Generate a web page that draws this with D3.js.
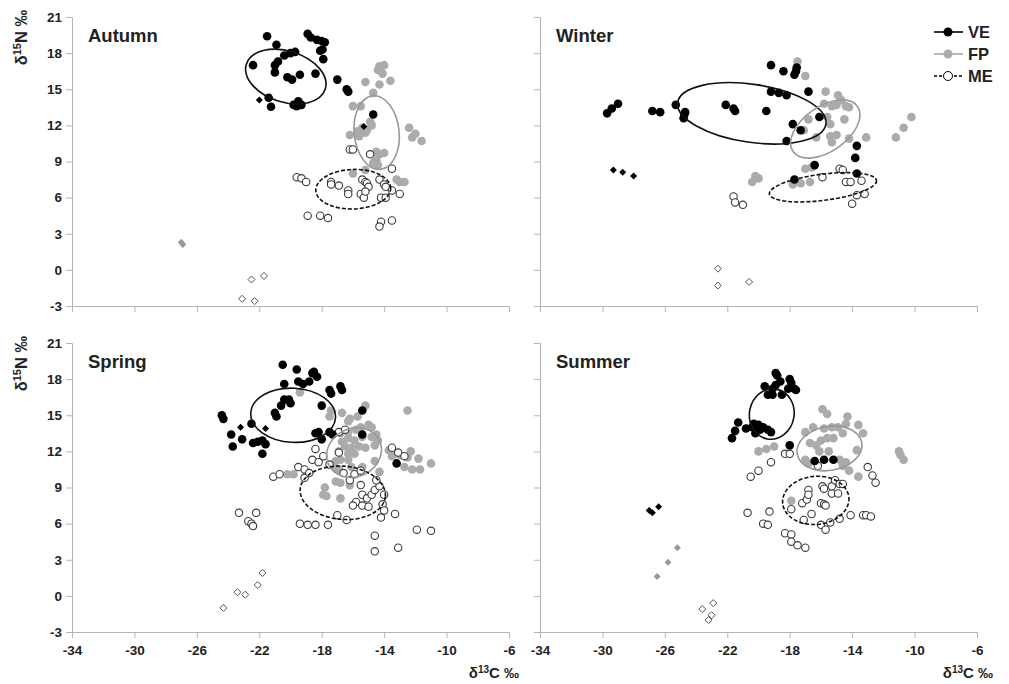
<!DOCTYPE html>
<html>
<head>
<meta charset="utf-8">
<script src="https://cdn.jsdelivr.net/npm/d3@7"></script>
<style>
  body { margin: 0; background: #fff; }
  svg text { font-family: Arial, "Liberation Sans", sans-serif; font-weight: bold; fill: #222; }
</style>
</head>
<body>
<div id="container"></div>
<script>
/* DATA (δ13C, δ15N in ‰) */
const seasons = ["Autumn", "Winter", "Spring", "Summer"];
const xTicks = [-34, -30, -26, -22, -18, -14, -10, -6];
const yTicks = [-3, 0, 3, 6, 9, 12, 15, 18, 21];
const groups = ["VE", "FP", "ME"];

// Autumn
const autumnVE = [[-21.5,19.4],[-20.9,18.7],[-22.4,17.0],[-21.0,17.0],[-20.8,17.3],[-20.4,17.8],[-20.0,18.0],[-19.7,18.1],[-21.0,16.4],[-20.2,16.0],[-19.9,15.8],[-19.4,16.2],[-18.4,16.3],[-18.9,19.6],[-18.7,19.3],[-18.3,19.1],[-18.0,19.0],[-17.8,18.9],[-18.1,18.2],[-17.95,18.3],[-17.9,17.5],[-17.0,15.8],[-16.4,15.0],[-16.3,14.8],[-14.7,12.9],[-21.4,14.3],[-21.25,13.55],[-19.8,13.7],[-19.5,14.0],[-19.3,13.7],[-19.6,13.6]];
const autumnFP = [[-14.4,16.6],[-14.3,16.9],[-14.0,17.0],[-14.1,16.3],[-15.2,15.6],[-14.3,15.4],[-13.6,15.7],[-14.7,14.7],[-16.0,13.6],[-15.5,13.6],[-16.2,11.2],[-15.7,11.5],[-15.4,11.8],[-15.2,11.4],[-15.1,11.6],[-14.9,12.3],[-14.8,12.0],[-15.6,11.1],[-14.5,9.8],[-14.3,9.6],[-14.0,9.7],[-14.5,9.1],[-14.7,8.9],[-14.4,8.7],[-12.4,11.8],[-12.0,11.3],[-12.2,11.0],[-11.6,10.7],[-16.0,8.0],[-15.2,8.3],[-13.2,7.5],[-13.0,7.3],[-12.7,7.3]];
const autumnME = [[-19.6,7.7],[-19.3,7.6],[-19.0,7.3],[-17.4,7.3],[-17.4,7.1],[-16.9,7.0],[-16.3,6.6],[-16.3,6.3],[-15.4,7.5],[-15.2,7.3],[-15.1,7.2],[-15.0,6.9],[-15.5,6.3],[-15.3,6.0],[-15.2,6.5],[-14.3,7.5],[-14.0,7.1],[-13.9,6.9],[-14.2,6.0],[-13.9,6.0],[-13.5,6.6],[-13.0,6.3],[-13.5,8.4],[-16.2,10.0],[-16.0,10.0],[-14.9,9.6],[-18.9,4.5],[-18.1,4.5],[-17.6,4.3],[-14.2,4.0],[-14.3,3.6],[-13.5,4.1]];
const autumnVEd = [[-22.0,14.1],[-15.3,11.9]];
const autumnFPd = [[-27.0,2.3],[-26.9,2.1]];
const autumnMEd = [[-22.5,-0.8],[-21.7,-0.5],[-23.1,-2.4],[-22.3,-2.6]];
const autumnEll = [[-20.3,16.05,2.65,2.13,17.5],[-14.48,11.4,1.44,3.07,-6],[-15.98,6.7,2.4,1.64,-2]];

// Winter
const winterVE = [[-29.7,13.0],[-29.4,13.4],[-29.0,13.8],[-26.8,13.2],[-26.3,13.1],[-25.3,13.7],[-24.7,13.1],[-24.8,12.6],[-24.75,12.9],[-22.1,13.7],[-21.6,13.4],[-21.5,13.2],[-19.5,13.2],[-19.2,17.0],[-18.4,16.5],[-17.7,16.2],[-17.6,16.5],[-17.55,16.8],[-19.2,14.8],[-18.7,14.7],[-18.2,14.5],[-16.8,14.8],[-17.8,12.1],[-16.1,12.7],[-17.3,11.6],[-18.2,10.7],[-13.7,10.3],[-13.8,9.3],[-13.7,8.0],[-17.7,7.5],[-16.4,8.7]];
const winterFP = [[-17.5,17.3],[-17.0,16.1],[-15.7,14.8],[-14.9,14.5],[-14.7,14.1],[-14.4,13.6],[-14.2,13.5],[-15.8,13.8],[-15.3,13.6],[-15.0,13.7],[-15.6,12.7],[-14.5,12.5],[-15.4,12.1],[-16.8,12.5],[-17.1,11.6],[-16.3,11.0],[-15.4,11.1],[-15.0,11.2],[-15.3,10.6],[-14.2,10.9],[-13.1,11.0],[-11.2,11.0],[-10.7,11.8],[-10.2,12.7],[-17.0,8.4],[-16.6,8.5],[-16.5,8.6],[-20.4,7.3],[-20.2,7.8],[-20.0,7.6],[-17.8,7.1],[-17.3,7.2],[-16.7,7.3]];
const winterME = [[-21.6,6.1],[-21.5,5.6],[-21.0,5.4],[-15.9,7.7],[-14.8,8.4],[-14.6,8.3],[-14.4,7.3],[-14.1,7.3],[-13.4,7.4],[-13.7,6.2],[-13.2,6.3],[-14.0,5.5]];
const winterVEd = [[-29.3,8.3],[-28.7,8.1],[-28.0,7.8]];
const winterFPd = [];
const winterMEd = [[-22.6,0.1],[-22.6,-1.3],[-20.6,-1.0]];
const winterEll = [[-20.43,13.0,4.8,2.41,8.3],[-15.72,11.7,2.52,1.86,-35],[-15.87,6.86,3.46,1.09,-7.2]];

// Spring
const springVE = [[-24.4,15.0],[-24.3,14.7],[-23.8,13.4],[-23.7,12.4],[-23.1,13.0],[-22.5,14.3],[-22.4,12.7],[-22.1,12.8],[-21.8,12.9],[-21.6,12.6],[-21.8,11.8],[-21.0,15.2],[-20.9,14.9],[-20.6,15.8],[-20.4,16.3],[-20.1,16.3],[-20.0,16.0],[-20.5,19.2],[-20.4,17.6],[-19.6,18.8],[-19.5,17.8],[-19.2,17.6],[-18.8,17.8],[-18.6,18.5],[-18.5,18.6],[-18.3,18.2],[-18.0,15.8],[-18.0,13.0],[-18.4,13.5],[-18.2,13.6],[-17.5,17.1],[-17.4,16.8],[-16.8,17.4],[-16.7,17.1],[-17.5,13.6],[-17.3,13.4],[-15.4,15.4],[-13.2,11.0],[-15.4,13.4]];
const springFP = [[-19.4,16.9],[-17.4,15.4],[-17.5,14.9],[-16.7,15.2],[-16.2,14.7],[-16.3,14.5],[-15.7,14.9],[-15.2,15.8],[-16.8,13.5],[-16.3,13.6],[-15.8,13.8],[-15.5,14.0],[-15.0,14.2],[-14.8,14.0],[-16.7,12.8],[-16.3,13.1],[-15.9,12.9],[-15.4,13.2],[-14.8,13.2],[-14.5,13.4],[-14.4,12.9],[-16.5,12.4],[-16.1,12.3],[-15.6,12.4],[-15.2,12.3],[-14.6,12.5],[-16.3,11.8],[-15.9,11.8],[-16.9,12.0],[-16.8,11.3],[-17.1,11.2],[-16.3,11.3],[-17.1,10.6],[-16.9,10.5],[-16.1,10.7],[-15.4,10.7],[-14.6,11.2],[-17.1,9.5],[-16.8,9.4],[-16.2,9.2],[-17.8,9.0],[-17.9,8.4],[-17.7,8.3],[-16.8,8.1],[-20.2,10.1],[-19.8,10.1],[-13.7,12.1],[-13.5,11.6],[-13.0,11.7],[-12.3,12.0],[-12.5,11.5],[-11.8,11.4],[-12.7,10.7],[-12.2,10.5],[-11.7,10.5],[-11.0,11.0],[-12.5,15.4],[-14.3,10.3]];
const springME = [[-23.3,6.9],[-22.2,6.9],[-22.7,6.2],[-22.5,6.0],[-22.4,5.8],[-21.1,9.9],[-20.7,10.1],[-19.5,10.7],[-19.1,10.5],[-19.1,9.8],[-18.8,10.2],[-18.4,12.2],[-18.6,11.3],[-18.2,11.1],[-17.9,11.6],[-17.5,10.9],[-16.9,11.9],[-16.9,13.6],[-16.5,13.8],[-16.6,10.2],[-16.2,9.6],[-15.9,10.1],[-15.5,10.4],[-15.5,9.2],[-15.8,7.8],[-16.0,7.5],[-15.4,7.5],[-15.0,7.4],[-15.4,8.4],[-15.1,8.1],[-14.8,8.4],[-14.6,8.8],[-14.3,9.1],[-14.5,9.6],[-14.0,8.4],[-14.1,7.6],[-14.0,7.1],[-17.0,6.7],[-16.4,6.3],[-19.4,6.0],[-18.9,5.9],[-18.4,5.9],[-17.6,5.9],[-14.2,6.5],[-13.3,6.8],[-13.5,12.3],[-13.1,11.9],[-12.7,11.6],[-14.6,5.0],[-14.6,3.7],[-13.1,4.0],[-11.9,5.5],[-11.0,5.4]];
const springVEd = [[-23.2,14.0],[-21.6,13.9]];
const springFPd = [];
const springMEd = [[-24.3,-1.0],[-23.4,0.3],[-22.9,0.1],[-22.1,0.9],[-21.8,1.9]];
const springEll = [[-19.83,15.0,2.72,2.25,3],[-15.93,11.9,1.8,2.0,-25],[-16.65,8.56,2.74,2.21,5]];

// Summer
const summerVE = [[-18.9,18.5],[-18.8,18.3],[-18.6,17.8],[-18.9,17.5],[-18.0,18.0],[-17.9,17.7],[-18.1,17.2],[-17.7,17.2],[-17.6,17.1],[-19.6,17.4],[-19.1,17.2],[-19.4,16.7],[-19.1,16.7],[-18.5,16.7],[-21.3,14.4],[-21.5,13.7],[-21.7,13.1],[-20.8,13.9],[-20.4,14.0],[-20.3,14.3],[-20.0,14.2],[-19.7,14.0],[-19.4,13.8],[-19.2,13.6],[-20.2,13.5],[-19.9,13.8],[-18.0,12.5],[-16.4,11.2],[-15.8,11.3],[-15.2,11.3]];
const summerFP = [[-15.9,15.5],[-15.6,15.1],[-17.0,13.6],[-16.5,14.0],[-15.8,13.9],[-15.3,14.0],[-14.9,14.0],[-14.3,14.9],[-14.4,14.3],[-13.6,14.2],[-13.3,13.5],[-16.7,12.7],[-16.3,12.5],[-16.0,12.9],[-15.6,13.1],[-15.2,13.1],[-14.6,13.5],[-16.1,12.0],[-15.5,12.0],[-13.7,12.1],[-20.0,12.0],[-19.5,12.2],[-19.0,12.4],[-17.0,11.3],[-16.8,11.0],[-14.8,11.3],[-14.4,11.1],[-14.6,10.8],[-14.2,10.4],[-13.6,9.9],[-11.0,12.0],[-10.9,11.7],[-10.7,11.3],[-17.9,7.9]];
const summerME = [[-18.3,11.8],[-18.0,11.8],[-19.2,11.1],[-20.5,9.9],[-20.0,10.4],[-16.2,10.8],[-13.0,10.7],[-12.7,10.0],[-12.5,9.4],[-20.7,6.9],[-19.3,7.0],[-19.7,6.0],[-19.4,5.9],[-18.3,5.2],[-17.9,5.1],[-17.9,4.5],[-17.5,4.2],[-17.0,4.0],[-17.2,7.7],[-16.9,8.0],[-16.8,8.8],[-16.8,8.4],[-17.9,7.2],[-16.6,6.8],[-17.1,6.3],[-15.9,9.1],[-15.8,8.9],[-15.3,8.5],[-15.3,9.1],[-15.1,9.6],[-14.8,9.3],[-14.6,9.3],[-14.9,8.5],[-16.0,7.7],[-15.8,7.6],[-15.7,7.5],[-16.0,5.9],[-15.7,5.5],[-15.4,6.1],[-14.8,6.4],[-14.1,6.7],[-13.3,6.7],[-13.1,6.7],[-12.8,6.6]];
const summerVEd = [[-27.0,7.1],[-26.8,6.9],[-26.4,7.4]];
const summerFPd = [[-26.5,1.6],[-25.8,2.8],[-25.2,4.0]];
const summerMEd = [[-23.6,-1.1],[-22.9,-0.6],[-23.0,-1.6],[-23.2,-2.0]];
const summerEll = [[-19.15,15.1,1.43,2.1,10],[-15.45,12.25,2.1,1.83,-10],[-16.33,7.93,2.13,2.0,-5]];

/* LAYOUT */
const width = 1009, height = 684;
const colX = [72, 540], rowY = [17, 343];
const pw = 437, ph = 289;

const panels = [
  {name: "Autumn", col: 0, row: 0, ve: autumnVE, fp: autumnFP, me: autumnME, ved: autumnVEd, fpd: autumnFPd, med: autumnMEd, ell: autumnEll},
  {name: "Winter", col: 1, row: 0, ve: winterVE, fp: winterFP, me: winterME, ved: winterVEd, fpd: winterFPd, med: winterMEd, ell: winterEll},
  {name: "Spring", col: 0, row: 1, ve: springVE, fp: springFP, me: springME, ved: springVEd, fpd: springFPd, med: springMEd, ell: springEll},
  {name: "Summer", col: 1, row: 1, ve: summerVE, fp: summerFP, me: summerME, ved: summerVEd, fpd: summerFPd, med: summerMEd, ell: summerEll}
];

const axisColor = "#b5b5b5";
const grayFill = "#ababab";
const diamond = "M0,-3.5L3.5,0L0,3.5L-3.5,0Z";

const svg = d3.select("#container").append("svg")
  .attr("width", width).attr("height", height);

panels.forEach(p => {
  const x0 = colX[p.col], y0 = rowY[p.row];
  const x = d3.scaleLinear().domain([-34, -6]).range([x0, x0 + pw]);
  const y = d3.scaleLinear().domain([-3, 21]).range([y0 + ph, y0]);
  const g = svg.append("g");

  // axes
  const xAxis = d3.axisBottom(x).tickValues(xTicks).tickSize(6).tickPadding(7);
  const yAxis = d3.axisLeft(y).tickValues(yTicks).tickSize(6).tickPadding(4);

  const gx = g.append("g").attr("transform", `translate(0,${y0 + ph})`).call(xAxis);
  const gy = g.append("g").attr("transform", `translate(${x0},0)`).call(yAxis);
  [gx, gy].forEach(a => {
    a.select(".domain").attr("stroke", axisColor);
    a.selectAll(".tick line").attr("stroke", axisColor);
    a.selectAll(".tick text").attr("font-size", 13.5).attr("fill", "#222")
      .text(d => d < 0 ? "-" + Math.abs(d) : d);
  });
  if (p.row === 0) gx.selectAll(".tick text").remove();
  if (p.col === 1) gy.selectAll(".tick text").remove();

  // title
  g.append("text").attr("x", x0 + 16).attr("y", y0 + 25)
    .attr("font-size", 18.5).text(p.name);

  // points
  g.selectAll("circle.fp").data(p.fp).join("circle").attr("class", "fp")
    .attr("cx", d => x(d[0])).attr("cy", d => y(d[1])).attr("r", 4.3)
    .attr("fill", grayFill);
  g.selectAll("circle.me").data(p.me).join("circle").attr("class", "me")
    .attr("cx", d => x(d[0])).attr("cy", d => y(d[1])).attr("r", 3.7)
    .attr("fill", "#fff").attr("stroke", "#3a3a3a").attr("stroke-width", 1.1);
  g.selectAll("circle.ve").data(p.ve).join("circle").attr("class", "ve")
    .attr("cx", d => x(d[0])).attr("cy", d => y(d[1])).attr("r", 4.3)
    .attr("fill", "#000");

  // diamonds
  g.selectAll("path.ved").data(p.ved).join("path").attr("class", "ved")
    .attr("d", diamond).attr("transform", d => `translate(${x(d[0])},${y(d[1])})`)
    .attr("fill", "#000");
  g.selectAll("path.fpd").data(p.fpd).join("path").attr("class", "fpd")
    .attr("d", diamond).attr("transform", d => `translate(${x(d[0])},${y(d[1])})`)
    .attr("fill", "#999");
  g.selectAll("path.med").data(p.med).join("path").attr("class", "med")
    .attr("d", diamond).attr("transform", d => `translate(${x(d[0])},${y(d[1])})`)
    .attr("fill", "#fff").attr("stroke", "#555").attr("stroke-width", 1);

  // ellipses (VE, FP, ME)
  const kx = x(1) - x(0), ky = y(0) - y(1);
  const ellStroke = ["#111", "#999", "#111"];
  g.selectAll("ellipse").data(p.ell).join("ellipse")
    .attr("transform", d => `translate(${x(d[0])},${y(d[1])}) rotate(${d[4]})`)
    .attr("rx", d => d[2] * kx).attr("ry", d => d[3] * ky)
    .attr("fill", "none")
    .attr("stroke", (d, i) => ellStroke[i])
    .attr("stroke-width", 1.6)
    .attr("stroke-dasharray", (d, i) => i === 2 ? "4,2" : null);

  // axis titles
  if (p.col === 0) {
    const t = g.append("text").attr("text-anchor", "end").attr("font-size", 16.5)
      .attr("transform", `translate(27,${y0 - 7}) rotate(-90)`);
    t.append("tspan").text("δ");
    t.append("tspan").attr("font-size", 11).attr("dy", -6).text("15");
    t.append("tspan").attr("dy", 6).text("N ‰");
  }
  if (p.row === 1) {
    const t = g.append("text").attr("text-anchor", "end").attr("font-size", 15)
      .attr("x", x0 + pw + (p.col === 0 ? 10 : 16)).attr("y", y0 + ph + 46);
    t.append("tspan").text("δ");
    t.append("tspan").attr("font-size", 10).attr("dy", -5).text("13");
    t.append("tspan").attr("dy", 5).text("C ‰");
  }
});

// legend
const legendY = [32, 54, 76];
const legStroke = ["#000", "#a6a6a6", "#000"];
const legFill = ["#000", "#ababab", "#fff"];
const leg = svg.append("g");
groups.forEach((gname, i) => {
  leg.append("line").attr("x1", 934).attr("x2", 963)
    .attr("y1", legendY[i]).attr("y2", legendY[i])
    .attr("stroke", legStroke[i]).attr("stroke-width", 1.6)
    .attr("stroke-dasharray", i === 2 ? "3,2" : null);
  leg.append("circle").attr("cx", 948).attr("cy", legendY[i]).attr("r", 4.5)
    .attr("fill", legFill[i]).attr("stroke", i === 2 ? "#000" : "none");
  leg.append("text").attr("x", 968).attr("y", legendY[i] + 6)
    .attr("font-size", 16.5).text(gname);
});
</script>
</body>
</html>
